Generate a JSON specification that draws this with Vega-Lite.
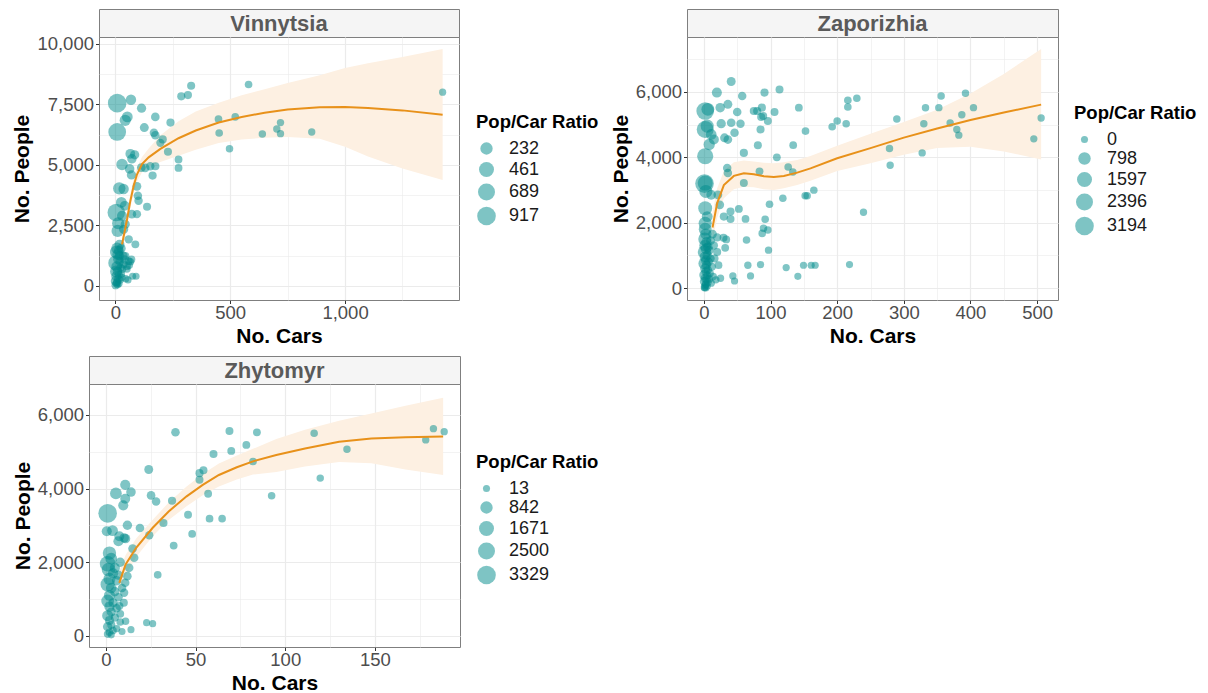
{
  "$schema": "https://vega.github.io/schema/vega-lite/v6.json",
  "background": "white",
  "padding": {"left": 10, "top": 8, "right": 0, "bottom": 0},
  "config": {
    "font": "Liberation Sans",
    "view": {"stroke": null},
    "axis": {
      "domain": false,
      "labelFont": "Liberation Sans",
      "labelFontSize": 18.5,
      "labelColor": "#4d4d4d",
      "labelFlush": false,
      "labelOverlap": false,
      "tickColor": "#333333",
      "tickWidth": 1,
      "titleFont": "Liberation Sans",
      "titleFontSize": 21,
      "titleFontWeight": "bold",
      "titleColor": "#000000",
      "gridColor": "#ebebeb"
    },
    "axisX": {"labelPadding": 0, "titlePadding": 3.5},
    "axisY": {"labelPadding": 2, "titlePadding": 4},
    "legend": {
      "titleFont": "Liberation Sans",
      "titleFontSize": 18.5,
      "titleFontWeight": "bold",
      "titleColor": "#000000",
      "labelFont": "Liberation Sans",
      "labelFontSize": 18,
      "labelColor": "#1a1a1a",
      "rowPadding": 0,
      "titlePadding": 8,
      "labelOffset": 12
    }
  },
  "datasets": {
    "vinnytsia": [
      {"cars": 1425, "people": 8000, "ratio": 5.6}, {"cars": 580, "people": 8320, "ratio": 14}, {"cars": 330, "people": 8270, "ratio": 25},
      {"cars": 287, "people": 7830, "ratio": 27}, {"cars": 316, "people": 7880, "ratio": 25}, {"cars": 8, "people": 7550, "ratio": 917},
      {"cars": 68, "people": 7690, "ratio": 113}, {"cars": 114, "people": 7340, "ratio": 64}, {"cars": 52, "people": 6980, "ratio": 134},
      {"cars": 43, "people": 6840, "ratio": 159}, {"cars": 174, "people": 6980, "ratio": 40}, {"cars": 8, "people": 6360, "ratio": 795},
      {"cars": 126, "people": 6540, "ratio": 52}, {"cars": 240, "people": 6745, "ratio": 28}, {"cars": 168, "people": 6330, "ratio": 38},
      {"cars": 174, "people": 6220, "ratio": 36}, {"cars": 206, "people": 6050, "ratio": 29}, {"cars": 196, "people": 5910, "ratio": 30},
      {"cars": 229, "people": 5540, "ratio": 24}, {"cars": 275, "people": 5220, "ratio": 19}, {"cars": 275, "people": 4875, "ratio": 18},
      {"cars": 449, "people": 6890, "ratio": 15}, {"cars": 522, "people": 6980, "ratio": 13}, {"cars": 452, "people": 6315, "ratio": 14},
      {"cars": 497, "people": 5665, "ratio": 11}, {"cars": 640, "people": 6275, "ratio": 10}, {"cars": 719, "people": 6745, "ratio": 9.4},
      {"cars": 703, "people": 6480, "ratio": 9.2}, {"cars": 719, "people": 6290, "ratio": 8.7}, {"cars": 855, "people": 6357, "ratio": 7.4},
      {"cars": 65, "people": 5457, "ratio": 84}, {"cars": 84, "people": 5415, "ratio": 64}, {"cars": 72, "people": 5249, "ratio": 73},
      {"cars": 29, "people": 5013, "ratio": 173}, {"cars": 62, "people": 4833, "ratio": 78}, {"cars": 70, "people": 4584, "ratio": 65},
      {"cars": 113, "people": 4888, "ratio": 43}, {"cars": 130, "people": 4875, "ratio": 38}, {"cars": 152, "people": 4943, "ratio": 33},
      {"cars": 174, "people": 4943, "ratio": 28}, {"cars": 162, "people": 4556, "ratio": 28}, {"cars": 17, "people": 4030, "ratio": 237},
      {"cars": 36, "people": 4003, "ratio": 111}, {"cars": 94, "people": 4113, "ratio": 44}, {"cars": 98, "people": 3725, "ratio": 38},
      {"cars": 26, "people": 3449, "ratio": 133}, {"cars": 41, "people": 3310, "ratio": 81}, {"cars": 101, "people": 3518, "ratio": 35},
      {"cars": 138, "people": 3269, "ratio": 24}, {"cars": 4, "people": 3033, "ratio": 760}, {"cars": 29, "people": 2895, "ratio": 100},
      {"cars": 72, "people": 2964, "ratio": 41}, {"cars": 94, "people": 2964, "ratio": 32}, {"cars": 12, "people": 2590, "ratio": 216},
      {"cars": 10, "people": 2271, "ratio": 227}, {"cars": 43, "people": 2549, "ratio": 59}, {"cars": 36, "people": 2340, "ratio": 65},
      {"cars": 58, "people": 1925, "ratio": 33}, {"cars": 87, "people": 1717, "ratio": 20}, {"cars": 90, "people": 400, "ratio": 4.4},
      {"cars": 70, "people": 1094, "ratio": 16}, {"cars": 51, "people": 817, "ratio": 16}, {"cars": 2, "people": 950, "ratio": 475},
      {"cars": 5, "people": 1400, "ratio": 280}, {"cars": 8, "people": 1550, "ratio": 194}, {"cars": 10, "people": 1300, "ratio": 130},
      {"cars": 12, "people": 1100, "ratio": 92}, {"cars": 15, "people": 1450, "ratio": 97}, {"cars": 18, "people": 1250, "ratio": 69},
      {"cars": 20, "people": 1000, "ratio": 50}, {"cars": 6, "people": 800, "ratio": 133}, {"cars": 9, "people": 600, "ratio": 67},
      {"cars": 4, "people": 400, "ratio": 100}, {"cars": 2, "people": 200, "ratio": 100}, {"cars": 7, "people": 150, "ratio": 21},
      {"cars": 12, "people": 300, "ratio": 25}, {"cars": 15, "people": 450, "ratio": 30}, {"cars": 20, "people": 250, "ratio": 12.5},
      {"cars": 25, "people": 500, "ratio": 20}, {"cars": 28, "people": 350, "ratio": 12.5}, {"cars": 30, "people": 700, "ratio": 23},
      {"cars": 35, "people": 900, "ratio": 26}, {"cars": 40, "people": 1100, "ratio": 27}, {"cars": 22, "people": 750, "ratio": 34},
      {"cars": 16, "people": 100, "ratio": 6}, {"cars": 10, "people": 50, "ratio": 5}, {"cars": 1, "people": 30, "ratio": 30},
      {"cars": 5, "people": 100, "ratio": 20}, {"cars": 45, "people": 300, "ratio": 7}, {"cars": 55, "people": 250, "ratio": 4.5},
      {"cars": 50, "people": 700, "ratio": 14}, {"cars": 65, "people": 1000, "ratio": 15}, {"cars": 75, "people": 400, "ratio": 5.3},
      {"cars": 60, "people": 850, "ratio": 14}, {"cars": 35, "people": 1250, "ratio": 36}, {"cars": 25, "people": 1550, "ratio": 62},
      {"cars": 18, "people": 1700, "ratio": 94}, {"cars": 3, "people": 600, "ratio": 200}, {"cars": 43, "people": 1233, "ratio": 29},
      {"cars": 58, "people": 1025, "ratio": 18}
    ],
    "vinnytsia_fit": [
      {"cars": 29, "fit": 1717, "lo": 1420, "hi": 2020}, {"cars": 40, "fit": 2230, "lo": 1930, "hi": 2530},
      {"cars": 51, "fit": 2756, "lo": 2450, "hi": 3060}, {"cars": 65, "fit": 3500, "lo": 3200, "hi": 3800},
      {"cars": 80, "fit": 4150, "lo": 3850, "hi": 4450}, {"cars": 94, "fit": 4600, "lo": 4300, "hi": 4900},
      {"cars": 116, "fit": 5030, "lo": 4700, "hi": 5330}, {"cars": 145, "fit": 5310, "lo": 4920, "hi": 5680},
      {"cars": 196, "fit": 5660, "lo": 5120, "hi": 6220}, {"cars": 275, "fit": 6100, "lo": 5380, "hi": 6800},
      {"cars": 350, "fit": 6420, "lo": 5620, "hi": 7200}, {"cars": 450, "fit": 6750, "lo": 5900, "hi": 7560},
      {"cars": 550, "fit": 6980, "lo": 6050, "hi": 7870}, {"cars": 650, "fit": 7150, "lo": 6120, "hi": 8120},
      {"cars": 750, "fit": 7290, "lo": 6150, "hi": 8380}, {"cars": 890, "fit": 7380, "lo": 6080, "hi": 8700},
      {"cars": 1000, "fit": 7390, "lo": 5750, "hi": 9000}, {"cars": 1100, "fit": 7350, "lo": 5350, "hi": 9200},
      {"cars": 1250, "fit": 7250, "lo": 4850, "hi": 9450}, {"cars": 1425, "fit": 7070, "lo": 4380, "hi": 9780}
    ],
    "zaporizhia": [
      {"cars": 41, "people": 6318, "ratio": 154}, {"cars": 19.5, "people": 5979, "ratio": 307}, {"cars": 57.5, "people": 5877, "ratio": 102},
      {"cars": 91, "people": 5979, "ratio": 66}, {"cars": 113.5, "people": 6072, "ratio": 53}, {"cars": 36, "people": 5620, "ratio": 156},
      {"cars": 24.5, "people": 5518, "ratio": 225}, {"cars": 50, "people": 5385, "ratio": 108}, {"cars": 75, "people": 5415, "ratio": 72},
      {"cars": 80, "people": 5415, "ratio": 68}, {"cars": 87, "people": 5518, "ratio": 63}, {"cars": 89, "people": 5261, "ratio": 59},
      {"cars": 106, "people": 5385, "ratio": 51}, {"cars": 142.5, "people": 5518, "ratio": 39}, {"cars": 216, "people": 5743, "ratio": 27},
      {"cars": 229.5, "people": 5805, "ratio": 25}, {"cars": 216, "people": 5538, "ratio": 26}, {"cars": 200, "people": 5108, "ratio": 26},
      {"cars": 192.5, "people": 4933, "ratio": 26}, {"cars": 213.5, "people": 5026, "ratio": 24}, {"cars": 152.5, "people": 4800, "ratio": 31},
      {"cars": 96, "people": 5108, "ratio": 53}, {"cars": 86, "people": 5231, "ratio": 61}, {"cars": 85, "people": 4851, "ratio": 57},
      {"cars": 26, "people": 5026, "ratio": 193}, {"cars": 41, "people": 5056, "ratio": 123}, {"cars": 55, "people": 5026, "ratio": 91},
      {"cars": 31, "people": 4595, "ratio": 148}, {"cars": 36, "people": 4543, "ratio": 126}, {"cars": 46, "people": 4749, "ratio": 103},
      {"cars": 15, "people": 4543, "ratio": 303}, {"cars": 134, "people": 4369, "ratio": 33}, {"cars": 81, "people": 4369, "ratio": 54},
      {"cars": 60, "people": 4133, "ratio": 69}, {"cars": 109.5, "people": 4000, "ratio": 37}, {"cars": 126.5, "people": 3702, "ratio": 29},
      {"cars": 133.5, "people": 3549, "ratio": 27}, {"cars": 83.5, "people": 3569, "ratio": 43}, {"cars": 35, "people": 3672, "ratio": 105},
      {"cars": 36, "people": 3518, "ratio": 98}, {"cars": 60, "people": 3210, "ratio": 54}, {"cars": 118.5, "people": 2749, "ratio": 23},
      {"cars": 152, "people": 2821, "ratio": 19}, {"cars": 155, "people": 2821, "ratio": 18}, {"cars": 165, "people": 2995, "ratio": 18},
      {"cars": 239.5, "people": 2318, "ratio": 10}, {"cars": 98.5, "people": 2564, "ratio": 26}, {"cars": 92, "people": 2103, "ratio": 23},
      {"cars": 89.5, "people": 1826, "ratio": 20}, {"cars": 96, "people": 1774, "ratio": 18}, {"cars": 87.5, "people": 1672, "ratio": 19},
      {"cars": 97, "people": 1159, "ratio": 12}, {"cars": 62.5, "people": 2113, "ratio": 34}, {"cars": 52.5, "people": 2420, "ratio": 46},
      {"cars": 40, "people": 2338, "ratio": 58}, {"cars": 40, "people": 2113, "ratio": 53}, {"cars": 30, "people": 2185, "ratio": 73},
      {"cars": 24, "people": 2544, "ratio": 106}, {"cars": 64, "people": 1467, "ratio": 23}, {"cars": 29.5, "people": 1538, "ratio": 52},
      {"cars": 33.5, "people": 1487, "ratio": 44}, {"cars": 32, "people": 1231, "ratio": 38}, {"cars": 66, "people": 697, "ratio": 11},
      {"cars": 85, "people": 718, "ratio": 8}, {"cars": 123.5, "people": 626, "ratio": 5}, {"cars": 149.5, "people": 697, "ratio": 5},
      {"cars": 161, "people": 697, "ratio": 4}, {"cars": 167, "people": 697, "ratio": 4}, {"cars": 218.5, "people": 718, "ratio": 3},
      {"cars": 43.5, "people": 369, "ratio": 8}, {"cars": 46, "people": 215, "ratio": 5}, {"cars": 70, "people": 369, "ratio": 5},
      {"cars": 141, "people": 359, "ratio": 2.5}, {"cars": 289.5, "people": 5169, "ratio": 18}, {"cars": 278.5, "people": 4267, "ratio": 15},
      {"cars": 279.5, "people": 3754, "ratio": 13}, {"cars": 332.5, "people": 5518, "ratio": 17}, {"cars": 352.5, "people": 5518, "ratio": 16},
      {"cars": 356, "people": 5877, "ratio": 17}, {"cars": 330, "people": 5026, "ratio": 15}, {"cars": 327.5, "people": 4133, "ratio": 13},
      {"cars": 369.5, "people": 5046, "ratio": 14}, {"cars": 379.5, "people": 4851, "ratio": 13}, {"cars": 382.5, "people": 4677, "ratio": 12},
      {"cars": 387, "people": 5302, "ratio": 14}, {"cars": 392.5, "people": 5959, "ratio": 15}, {"cars": 404.5, "people": 5518, "ratio": 14},
      {"cars": 495, "people": 4564, "ratio": 9}, {"cars": 506, "people": 5200, "ratio": 10},
      {"cars": 2, "people": 5415, "ratio": 2700}, {"cars": 6, "people": 5467, "ratio": 911}, {"cars": 2, "people": 4851, "ratio": 2400},
      {"cars": 5, "people": 4954, "ratio": 990}, {"cars": 2, "people": 4031, "ratio": 2000}, {"cars": 1, "people": 3194, "ratio": 3194},
      {"cars": 2, "people": 3210, "ratio": 1600}, {"cars": 3, "people": 2954, "ratio": 985}, {"cars": 11, "people": 2851, "ratio": 260},
      {"cars": 21, "people": 2851, "ratio": 136}, {"cars": 2, "people": 2441, "ratio": 1220}, {"cars": 5, "people": 2185, "ratio": 437},
      {"cars": 2, "people": 1979, "ratio": 990}, {"cars": 11, "people": 4697, "ratio": 427}, {"cars": 8, "people": 4390, "ratio": 549},
      {"cars": 2, "people": 1800, "ratio": 900}, {"cars": 3, "people": 1650, "ratio": 550}, {"cars": 1.5, "people": 1500, "ratio": 1000},
      {"cars": 4, "people": 1400, "ratio": 350}, {"cars": 2, "people": 1300, "ratio": 650}, {"cars": 6, "people": 1250, "ratio": 208},
      {"cars": 3, "people": 1200, "ratio": 400}, {"cars": 8, "people": 1150, "ratio": 144}, {"cars": 1, "people": 1100, "ratio": 1100},
      {"cars": 5, "people": 1000, "ratio": 200}, {"cars": 2, "people": 950, "ratio": 475}, {"cars": 10, "people": 900, "ratio": 90},
      {"cars": 3, "people": 850, "ratio": 283}, {"cars": 7, "people": 800, "ratio": 114}, {"cars": 1, "people": 750, "ratio": 750},
      {"cars": 4, "people": 700, "ratio": 175}, {"cars": 12, "people": 650, "ratio": 54}, {"cars": 2, "people": 600, "ratio": 300},
      {"cars": 6, "people": 550, "ratio": 92}, {"cars": 3, "people": 500, "ratio": 167}, {"cars": 9, "people": 450, "ratio": 50},
      {"cars": 1, "people": 400, "ratio": 400}, {"cars": 5, "people": 380, "ratio": 76}, {"cars": 14, "people": 350, "ratio": 25},
      {"cars": 2, "people": 300, "ratio": 150}, {"cars": 8, "people": 280, "ratio": 35}, {"cars": 4, "people": 250, "ratio": 63},
      {"cars": 18, "people": 250, "ratio": 14}, {"cars": 1, "people": 200, "ratio": 200}, {"cars": 6, "people": 180, "ratio": 30},
      {"cars": 11, "people": 150, "ratio": 14}, {"cars": 3, "people": 120, "ratio": 40}, {"cars": 2, "people": 80, "ratio": 40},
      {"cars": 5, "people": 60, "ratio": 12}, {"cars": 1, "people": 30, "ratio": 30}, {"cars": 1, "people": 0, "ratio": 0},
      {"cars": 3, "people": 0, "ratio": 0}, {"cars": 15, "people": 1300, "ratio": 87}, {"cars": 20, "people": 1100, "ratio": 55},
      {"cars": 16, "people": 900, "ratio": 56}, {"cars": 22, "people": 700, "ratio": 32}, {"cars": 25, "people": 300, "ratio": 12},
      {"cars": 13, "people": 1650, "ratio": 127}, {"cars": 10, "people": 1450, "ratio": 145}, {"cars": 20, "people": 1550, "ratio": 78}
    ],
    "zaporizhia_fit": [
      {"cars": 13, "fit": 1850, "lo": 1450, "hi": 2300}, {"cars": 20, "fit": 2600, "lo": 2150, "hi": 3050},
      {"cars": 30, "fit": 3150, "lo": 2750, "hi": 3580}, {"cars": 45, "fit": 3430, "lo": 3020, "hi": 3850},
      {"cars": 60, "fit": 3510, "lo": 3100, "hi": 3900}, {"cars": 75, "fit": 3480, "lo": 3080, "hi": 3870},
      {"cars": 90, "fit": 3420, "lo": 3020, "hi": 3830}, {"cars": 105, "fit": 3400, "lo": 3000, "hi": 3820},
      {"cars": 120, "fit": 3430, "lo": 3050, "hi": 3850}, {"cars": 140, "fit": 3530, "lo": 3150, "hi": 3920},
      {"cars": 160, "fit": 3660, "lo": 3280, "hi": 4040}, {"cars": 200, "fit": 3970, "lo": 3580, "hi": 4350},
      {"cars": 250, "fit": 4280, "lo": 3820, "hi": 4720}, {"cars": 300, "fit": 4600, "lo": 4080, "hi": 5080},
      {"cars": 350, "fit": 4880, "lo": 4280, "hi": 5450}, {"cars": 400, "fit": 5140, "lo": 4320, "hi": 5950},
      {"cars": 450, "fit": 5370, "lo": 4180, "hi": 6550}, {"cars": 506, "fit": 5610, "lo": 3930, "hi": 7313}
    ],
    "zhytomyr": [
      {"cars": 38.8, "people": 5529, "ratio": 142}, {"cars": 68.9, "people": 5565, "ratio": 81}, {"cars": 84.2, "people": 5529, "ratio": 66},
      {"cars": 78.3, "people": 5186, "ratio": 66}, {"cars": 69.9, "people": 5024, "ratio": 72}, {"cars": 60, "people": 4943, "ratio": 82},
      {"cars": 82, "people": 4736, "ratio": 58}, {"cars": 92.4, "people": 3806, "ratio": 41}, {"cars": 23.9, "people": 4519, "ratio": 189},
      {"cars": 52.2, "people": 4420, "ratio": 85}, {"cars": 54.4, "people": 4501, "ratio": 83}, {"cars": 52.2, "people": 4239, "ratio": 81},
      {"cars": 57, "people": 3861, "ratio": 68}, {"cars": 45.8, "people": 3292, "ratio": 72}, {"cars": 57.8, "people": 3184, "ratio": 55},
      {"cars": 64.8, "people": 3184, "ratio": 49}, {"cars": 48.1, "people": 2769, "ratio": 58}, {"cars": 37.8, "people": 2453, "ratio": 65},
      {"cars": 28.9, "people": 1660, "ratio": 57}, {"cars": 36.9, "people": 3671, "ratio": 99}, {"cars": 32.1, "people": 3067, "ratio": 96},
      {"cars": 25.2, "people": 3815, "ratio": 151}, {"cars": 28, "people": 3653, "ratio": 130}, {"cars": 19, "people": 2931, "ratio": 154},
      {"cars": 24.2, "people": 2733, "ratio": 113}, {"cars": 22.7, "people": 361, "ratio": 16}, {"cars": 26.1, "people": 334, "ratio": 13},
      {"cars": 14, "people": 171, "ratio": 13}, {"cars": 116.1, "people": 5502, "ratio": 47}, {"cars": 119.5, "people": 4285, "ratio": 36},
      {"cars": 134.4, "people": 5069, "ratio": 38}, {"cars": 178.3, "people": 5322, "ratio": 30}, {"cars": 182.6, "people": 5628, "ratio": 31},
      {"cars": 188.6, "people": 5547, "ratio": 29}, {"cars": 10.8, "people": 4104, "ratio": 380}, {"cars": 14, "people": 3906, "ratio": 279},
      {"cars": 10.8, "people": 3725, "ratio": 345}, {"cars": 9.7, "people": 3545, "ratio": 365}, {"cars": 5.6, "people": 3869, "ratio": 691},
      {"cars": 1, "people": 3329, "ratio": 3329}, {"cars": 0.5, "people": 2841, "ratio": 350}, {"cars": 3.7, "people": 2860, "ratio": 500},
      {"cars": 7.5, "people": 2706, "ratio": 360}, {"cars": 10.2, "people": 2660, "ratio": 260}, {"cars": 7, "people": 2570, "ratio": 367},
      {"cars": 11, "people": 2642, "ratio": 240}, {"cars": 12, "people": 3004, "ratio": 250}, {"cars": 14.9, "people": 2372, "ratio": 159},
      {"cars": 15.8, "people": 2120, "ratio": 134}, {"cars": 13, "people": 1849, "ratio": 142}, {"cars": 12, "people": 1624, "ratio": 135},
      {"cars": 10.8, "people": 1443, "ratio": 134}, {"cars": 10.2, "people": 1173, "ratio": 115}, {"cars": 7.5, "people": 812, "ratio": 108},
      {"cars": 1, "people": 1960, "ratio": 1960}, {"cars": 2, "people": 2250, "ratio": 1125}, {"cars": 3, "people": 2100, "ratio": 700},
      {"cars": 1.5, "people": 1800, "ratio": 1200}, {"cars": 4, "people": 1700, "ratio": 425}, {"cars": 2, "people": 1550, "ratio": 775},
      {"cars": 6, "people": 1500, "ratio": 250}, {"cars": 1, "people": 1400, "ratio": 1400}, {"cars": 3, "people": 1300, "ratio": 433},
      {"cars": 5, "people": 1200, "ratio": 240}, {"cars": 2, "people": 1100, "ratio": 550}, {"cars": 7, "people": 1050, "ratio": 150},
      {"cars": 1, "people": 950, "ratio": 950}, {"cars": 4, "people": 900, "ratio": 225}, {"cars": 2, "people": 800, "ratio": 400},
      {"cars": 6, "people": 750, "ratio": 125}, {"cars": 3, "people": 650, "ratio": 217}, {"cars": 1, "people": 550, "ratio": 550},
      {"cars": 5, "people": 500, "ratio": 100}, {"cars": 2, "people": 420, "ratio": 210}, {"cars": 8, "people": 380, "ratio": 48},
      {"cars": 3, "people": 300, "ratio": 100}, {"cars": 1, "people": 250, "ratio": 250}, {"cars": 6, "people": 200, "ratio": 33},
      {"cars": 4, "people": 150, "ratio": 38}, {"cars": 2, "people": 100, "ratio": 50}, {"cars": 9, "people": 120, "ratio": 13},
      {"cars": 1, "people": 50, "ratio": 50}, {"cars": 3, "people": 30, "ratio": 13}, {"cars": 5, "people": 1850, "ratio": 370},
      {"cars": 8, "people": 2000, "ratio": 250}, {"cars": 7, "people": 1650, "ratio": 236}, {"cars": 9, "people": 1300, "ratio": 144},
      {"cars": 10, "people": 900, "ratio": 90}, {"cars": 8, "people": 600, "ratio": 75}, {"cars": 11, "people": 400, "ratio": 36}
    ],
    "zhytomyr_fit": [
      {"cars": 7.5, "fit": 1440, "lo": 1150, "hi": 1750}, {"cars": 11, "fit": 1940, "lo": 1650, "hi": 2200},
      {"cars": 17, "fit": 2400, "lo": 2150, "hi": 2650}, {"cars": 26, "fit": 2930, "lo": 2700, "hi": 3150},
      {"cars": 35, "fit": 3380, "lo": 3150, "hi": 3620}, {"cars": 45, "fit": 3790, "lo": 3520, "hi": 4060},
      {"cars": 54, "fit": 4100, "lo": 3820, "hi": 4400}, {"cars": 63, "fit": 4370, "lo": 4060, "hi": 4680},
      {"cars": 73, "fit": 4580, "lo": 4250, "hi": 4900}, {"cars": 82, "fit": 4740, "lo": 4380, "hi": 5080},
      {"cars": 95, "fit": 4910, "lo": 4450, "hi": 5350}, {"cars": 111, "fit": 5090, "lo": 4600, "hi": 5600},
      {"cars": 130, "fit": 5270, "lo": 4720, "hi": 5840}, {"cars": 148, "fit": 5360, "lo": 4690, "hi": 6040},
      {"cars": 167, "fit": 5395, "lo": 4520, "hi": 6250}, {"cars": 188, "fit": 5412, "lo": 4370, "hi": 6470}
    ]
  },
  "resolve": {"scale": {"size": "independent"}, "legend": {"size": "independent"}},
  "vconcat": [
    {
      "resolve": {"scale": {"size": "independent"}, "legend": {"size": "independent"}},
      "hconcat": [
        {"width": 1, "height": 1, "data": {"values": []}, "mark": "point", "encoding": {}},
        {
          "resolve": {"scale": {"size": "independent"}, "legend": {"size": "independent"}},
          "hconcat": [
            {
              "bounds": "flush",
              "vconcat": [
                {
                  "width": 360, "height": 28,
                  "data": {"values": [{"region": "Vinnytsia"}]},
                  "view": {"fill": "#f5f5f5", "stroke": "#7f7f7f"},
                  "mark": {"type": "text", "fontSize": 22, "fontWeight": "bold", "color": "#5a5a5a", "baseline": "middle", "dy": 1},
                  "encoding": {"text": {"field": "region"}}
                },
                {
                  "width": 360, "height": 263,
                  "view": {"stroke": "#7f7f7f"},
                  "layer": [
                    {
                      "data": {"name": "vinnytsia_fit"},
                      "mark": {"type": "area", "color": "#fdf0e2"},
                      "encoding": {
                        "x": {"field": "cars", "type": "quantitative", "title": "No. Cars", "scale": {"domain": [-71.25, 1496.25], "nice": false, "zero": false},
                          "axis": {"values": [0, 250, 500, 750, 1000, 1250], "labelExpr": "datum.value % 500 === 0 ? format(datum.value, ',') : ''",
                            "tickSize": {"condition": {"test": "datum.value % 500 !== 0", "value": 0}, "value": 3.5},
                            "gridWidth": {"condition": {"test": "datum.value % 500 !== 0", "value": 0.6}, "value": 1.2}}},
                        "y": {"field": "lo", "type": "quantitative", "title": "No. People", "scale": {"domain": [-580, 10280], "nice": false, "zero": false},
                          "axis": {"values": [0, 1250, 2500, 3750, 5000, 6250, 7500, 8750, 10000], "labelExpr": "datum.value % 2500 === 0 ? format(datum.value, ',') : ''",
                            "tickSize": {"condition": {"test": "datum.value % 2500 !== 0", "value": 0}, "value": 3.5},
                            "gridWidth": {"condition": {"test": "datum.value % 2500 !== 0", "value": 0.6}, "value": 1.2}}},
                        "y2": {"field": "hi"}
                      }
                    },
                    {
                      "data": {"name": "vinnytsia"},
                      "mark": {"type": "circle", "color": "#008b8b", "opacity": 0.5},
                      "encoding": {
                        "x": {"field": "cars", "type": "quantitative", "title": "No. Cars", "scale": {"domain": [-71.25, 1496.25], "nice": false, "zero": false},
                          "axis": {"values": [0, 250, 500, 750, 1000, 1250], "labelExpr": "datum.value % 500 === 0 ? format(datum.value, ',') : ''",
                            "tickSize": {"condition": {"test": "datum.value % 500 !== 0", "value": 0}, "value": 3.5},
                            "gridWidth": {"condition": {"test": "datum.value % 500 !== 0", "value": 0.6}, "value": 1.2}}},
                        "y": {"field": "people", "type": "quantitative", "title": "No. People", "scale": {"domain": [-580, 10280], "nice": false, "zero": false},
                          "axis": {"values": [0, 1250, 2500, 3750, 5000, 6250, 7500, 8750, 10000], "labelExpr": "datum.value % 2500 === 0 ? format(datum.value, ',') : ''",
                            "tickSize": {"condition": {"test": "datum.value % 2500 !== 0", "value": 0}, "value": 3.5},
                            "gridWidth": {"condition": {"test": "datum.value % 2500 !== 0", "value": 0.6}, "value": 1.2}}},
                        "size": {"field": "ratio", "type": "quantitative", "scale": {"type": "pow", "exponent": 0.75, "domain": [3.5, 917], "range": [50, 346], "zero": false, "clamp": true},
                          "legend": {"title": "Pop/Car Ratio", "values": [232, 461, 689, 917], "format": "d", "orient": "none", "legendX": 377, "legendY": 104}}
                      }
                    },
                    {
                      "data": {"name": "vinnytsia_fit"},
                      "mark": {"type": "line", "color": "#e8911a", "strokeWidth": 2},
                      "encoding": {
                        "x": {"field": "cars", "type": "quantitative", "title": "No. Cars", "scale": {"domain": [-71.25, 1496.25], "nice": false, "zero": false},
                          "axis": {"values": [0, 250, 500, 750, 1000, 1250], "labelExpr": "datum.value % 500 === 0 ? format(datum.value, ',') : ''",
                            "tickSize": {"condition": {"test": "datum.value % 500 !== 0", "value": 0}, "value": 3.5},
                            "gridWidth": {"condition": {"test": "datum.value % 500 !== 0", "value": 0.6}, "value": 1.2}}},
                        "y": {"field": "fit", "type": "quantitative", "title": "No. People", "scale": {"domain": [-580, 10280], "nice": false, "zero": false},
                          "axis": {"values": [0, 1250, 2500, 3750, 5000, 6250, 7500, 8750, 10000], "labelExpr": "datum.value % 2500 === 0 ? format(datum.value, ',') : ''",
                            "tickSize": {"condition": {"test": "datum.value % 2500 !== 0", "value": 0}, "value": 3.5},
                            "gridWidth": {"condition": {"test": "datum.value % 2500 !== 0", "value": 0.6}, "value": 1.2}}}
                      }
                    }
                  ]
                }
              ],
              "spacing": 0
            },
            {
              "bounds": "flush",
              "vconcat": [
                {
                  "width": 371, "height": 28,
                  "data": {"values": [{"region": "Zaporizhia"}]},
                  "view": {"fill": "#f5f5f5", "stroke": "#7f7f7f"},
                  "mark": {"type": "text", "fontSize": 22, "fontWeight": "bold", "color": "#5a5a5a", "baseline": "middle", "dy": 1},
                  "encoding": {"text": {"field": "region"}}
                },
                {
                  "width": 371, "height": 263,
                  "view": {"stroke": "#7f7f7f"},
                  "layer": [
                    {
                      "data": {"name": "zaporizhia_fit"},
                      "mark": {"type": "area", "color": "#fdf0e2"},
                      "encoding": {
                        "x": {"field": "cars", "type": "quantitative", "title": "No. Cars", "scale": {"domain": [-25.3, 531.3], "nice": false, "zero": false},
                          "axis": {"values": [0, 50, 100, 150, 200, 250, 300, 350, 400, 450, 500], "labelExpr": "datum.value % 100 === 0 ? format(datum.value, ',') : ''",
                            "tickSize": {"condition": {"test": "datum.value % 100 !== 0", "value": 0}, "value": 3.5},
                            "gridWidth": {"condition": {"test": "datum.value % 100 !== 0", "value": 0.6}, "value": 1.2}}},
                        "y": {"field": "lo", "type": "quantitative", "title": "No. People", "scale": {"domain": [-366, 7679], "nice": false, "zero": false},
                          "axis": {"values": [0, 1000, 2000, 3000, 4000, 5000, 6000, 7000], "labelExpr": "datum.value % 2000 === 0 ? format(datum.value, ',') : ''",
                            "tickSize": {"condition": {"test": "datum.value % 2000 !== 0", "value": 0}, "value": 3.5},
                            "gridWidth": {"condition": {"test": "datum.value % 2000 !== 0", "value": 0.6}, "value": 1.2}}},
                        "y2": {"field": "hi"}
                      }
                    },
                    {
                      "data": {"name": "zaporizhia"},
                      "mark": {"type": "circle", "color": "#008b8b", "opacity": 0.5},
                      "encoding": {
                        "x": {"field": "cars", "type": "quantitative", "title": "No. Cars", "scale": {"domain": [-25.3, 531.3], "nice": false, "zero": false},
                          "axis": {"values": [0, 50, 100, 150, 200, 250, 300, 350, 400, 450, 500], "labelExpr": "datum.value % 100 === 0 ? format(datum.value, ',') : ''",
                            "tickSize": {"condition": {"test": "datum.value % 100 !== 0", "value": 0}, "value": 3.5},
                            "gridWidth": {"condition": {"test": "datum.value % 100 !== 0", "value": 0.6}, "value": 1.2}}},
                        "y": {"field": "people", "type": "quantitative", "title": "No. People", "scale": {"domain": [-366, 7679], "nice": false, "zero": false},
                          "axis": {"values": [0, 1000, 2000, 3000, 4000, 5000, 6000, 7000], "labelExpr": "datum.value % 2000 === 0 ? format(datum.value, ',') : ''",
                            "tickSize": {"condition": {"test": "datum.value % 2000 !== 0", "value": 0}, "value": 3.5},
                            "gridWidth": {"condition": {"test": "datum.value % 2000 !== 0", "value": 0.6}, "value": 1.2}}},
                        "size": {"field": "ratio", "type": "quantitative", "scale": {"type": "pow", "exponent": 0.75, "domain": [0, 3194], "range": [50, 346], "zero": false, "clamp": true},
                          "legend": {"title": "Pop/Car Ratio", "values": [0, 798, 1597, 2396, 3194], "format": "d", "orient": "none", "legendX": 387, "legendY": 95}}
                      }
                    },
                    {
                      "data": {"name": "zaporizhia_fit"},
                      "mark": {"type": "line", "color": "#e8911a", "strokeWidth": 2},
                      "encoding": {
                        "x": {"field": "cars", "type": "quantitative", "title": "No. Cars", "scale": {"domain": [-25.3, 531.3], "nice": false, "zero": false},
                          "axis": {"values": [0, 50, 100, 150, 200, 250, 300, 350, 400, 450, 500], "labelExpr": "datum.value % 100 === 0 ? format(datum.value, ',') : ''",
                            "tickSize": {"condition": {"test": "datum.value % 100 !== 0", "value": 0}, "value": 3.5},
                            "gridWidth": {"condition": {"test": "datum.value % 100 !== 0", "value": 0.6}, "value": 1.2}}},
                        "y": {"field": "fit", "type": "quantitative", "title": "No. People", "scale": {"domain": [-366, 7679], "nice": false, "zero": false},
                          "axis": {"values": [0, 1000, 2000, 3000, 4000, 5000, 6000, 7000], "labelExpr": "datum.value % 2000 === 0 ? format(datum.value, ',') : ''",
                            "tickSize": {"condition": {"test": "datum.value % 2000 !== 0", "value": 0}, "value": 3.5},
                            "gridWidth": {"condition": {"test": "datum.value % 2000 !== 0", "value": 0.6}, "value": 1.2}}}
                      }
                    }
                  ]
                }
              ],
              "spacing": 0
            }
          ],
          "spacing": 10
        }
      ],
      "spacing": 0
    },
    {
      "resolve": {"scale": {"size": "independent"}, "legend": {"size": "independent"}},
      "hconcat": [
        {"width": 1, "height": 1, "data": {"values": []}, "mark": "point", "encoding": {}},
        {
          "bounds": "flush",
          "vconcat": [
            {
              "width": 371, "height": 28,
              "data": {"values": [{"region": "Zhytomyr"}]},
              "view": {"fill": "#f5f5f5", "stroke": "#7f7f7f"},
              "mark": {"type": "text", "fontSize": 22, "fontWeight": "bold", "color": "#5a5a5a", "baseline": "middle", "dy": 1},
              "encoding": {"text": {"field": "region"}}
            },
            {
              "width": 371, "height": 263,
              "view": {"stroke": "#7f7f7f"},
              "layer": [
                {
                  "data": {"name": "zhytomyr_fit"},
                  "mark": {"type": "area", "color": "#fdf0e2"},
                  "encoding": {
                    "x": {"field": "cars", "type": "quantitative", "title": "No. Cars", "scale": {"domain": [-9.4, 197.4], "nice": false, "zero": false},
                      "axis": {"values": [0, 25, 50, 75, 100, 125, 150, 175], "labelExpr": "datum.value % 50 === 0 ? format(datum.value, ',') : ''",
                        "tickSize": {"condition": {"test": "datum.value % 50 !== 0", "value": 0}, "value": 3.5},
                        "gridWidth": {"condition": {"test": "datum.value % 50 !== 0", "value": 0.6}, "value": 1.2}}},
                    "y": {"field": "lo", "type": "quantitative", "title": "No. People", "scale": {"domain": [-300, 6840], "nice": false, "zero": false},
                      "axis": {"values": [0, 1000, 2000, 3000, 4000, 5000, 6000], "labelExpr": "datum.value % 2000 === 0 ? format(datum.value, ',') : ''",
                        "tickSize": {"condition": {"test": "datum.value % 2000 !== 0", "value": 0}, "value": 3.5},
                        "gridWidth": {"condition": {"test": "datum.value % 2000 !== 0", "value": 0.6}, "value": 1.2}}},
                    "y2": {"field": "hi"}
                  }
                },
                {
                  "data": {"name": "zhytomyr"},
                  "mark": {"type": "circle", "color": "#008b8b", "opacity": 0.5},
                  "encoding": {
                    "x": {"field": "cars", "type": "quantitative", "title": "No. Cars", "scale": {"domain": [-9.4, 197.4], "nice": false, "zero": false},
                      "axis": {"values": [0, 25, 50, 75, 100, 125, 150, 175], "labelExpr": "datum.value % 50 === 0 ? format(datum.value, ',') : ''",
                        "tickSize": {"condition": {"test": "datum.value % 50 !== 0", "value": 0}, "value": 3.5},
                        "gridWidth": {"condition": {"test": "datum.value % 50 !== 0", "value": 0.6}, "value": 1.2}}},
                    "y": {"field": "people", "type": "quantitative", "title": "No. People", "scale": {"domain": [-300, 6840], "nice": false, "zero": false},
                      "axis": {"values": [0, 1000, 2000, 3000, 4000, 5000, 6000], "labelExpr": "datum.value % 2000 === 0 ? format(datum.value, ',') : ''",
                        "tickSize": {"condition": {"test": "datum.value % 2000 !== 0", "value": 0}, "value": 3.5},
                        "gridWidth": {"condition": {"test": "datum.value % 2000 !== 0", "value": 0.6}, "value": 1.2}}},
                    "size": {"field": "ratio", "type": "quantitative", "scale": {"type": "pow", "exponent": 0.75, "domain": [13, 3329], "range": [50, 346], "zero": false, "clamp": true},
                      "legend": {"title": "Pop/Car Ratio", "values": [13, 842, 1671, 2500, 3329], "format": "d", "orient": "none", "legendX": 387, "legendY": 97}}
                  }
                },
                {
                  "data": {"name": "zhytomyr_fit"},
                  "mark": {"type": "line", "color": "#e8911a", "strokeWidth": 2},
                  "encoding": {
                    "x": {"field": "cars", "type": "quantitative", "title": "No. Cars", "scale": {"domain": [-9.4, 197.4], "nice": false, "zero": false},
                      "axis": {"values": [0, 25, 50, 75, 100, 125, 150, 175], "labelExpr": "datum.value % 50 === 0 ? format(datum.value, ',') : ''",
                        "tickSize": {"condition": {"test": "datum.value % 50 !== 0", "value": 0}, "value": 3.5},
                        "gridWidth": {"condition": {"test": "datum.value % 50 !== 0", "value": 0.6}, "value": 1.2}}},
                    "y": {"field": "fit", "type": "quantitative", "title": "No. People", "scale": {"domain": [-300, 6840], "nice": false, "zero": false},
                      "axis": {"values": [0, 1000, 2000, 3000, 4000, 5000, 6000], "labelExpr": "datum.value % 2000 === 0 ? format(datum.value, ',') : ''",
                        "tickSize": {"condition": {"test": "datum.value % 2000 !== 0", "value": 0}, "value": 3.5},
                        "gridWidth": {"condition": {"test": "datum.value % 2000 !== 0", "value": 0.6}, "value": 1.2}}}
                  }
                }
              ]
            }
          ],
          "spacing": 0
        }
      ],
      "spacing": 0
    }
  ],
  "spacing": 8
}
